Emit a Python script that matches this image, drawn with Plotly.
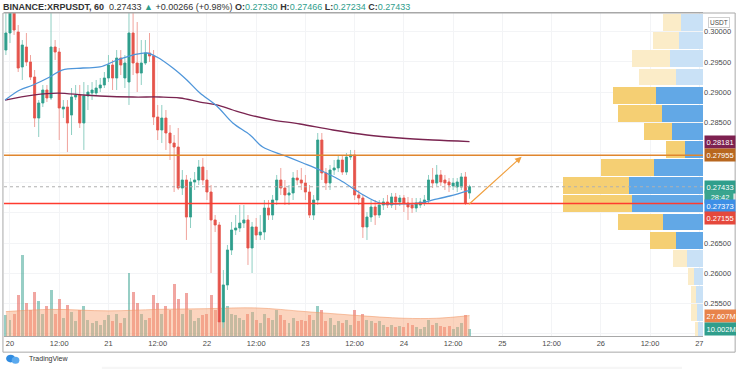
import plotly.graph_objects as go

# ---------------- data ----------------
hours = list(range(-1, 113))  # hourly candles, hours since Aug-20 00:00

opens = [.29697,.29979,.30310,.29995,.29416,.29747,.29499,.29250,.28571,.28820,
         .29035,.28903,.29747,.29664,.28720,.28753,.28621,.28919,.28952,.28489,
         .28936,.28985,.28985,.29068,.29118,.29234,.29449,.29234,.29565,.29234,
         .29167,.29979,.29482,.29316,.29482,.29648,.29598,.28588,.28373,.28571,
         .28323,.28157,.28091,.27412,.27545,.26932,.27512,.27545,.27760,.27545,
         .27346,.26883,.26800,.25194,.25807,.26386,.26717,.26750,.26833,.26883,
         .26419,.26767,.26634,.26684,.27081,.26965,.27214,.27545,.27412,.27297,
         .27330,.27578,.27545,.27495,.27346,.26965,.27214,.28207,.27661,.27495,
         .27710,.27744,.27876,.27677,.27926,.27959,.27297,.27247,.26767,.26932,
         .27098,.26965,.27131,.27181,.27131,.27264,.27181,.27247,.27164,.27131,
         .27081,.27131,.27164,.27214,.27545,.27495,.27628,.27545,.27512,.27446,
         .27429,.27429,.27595,.27330]
highs = [.30359,.30393,.30393,.30111,.29863,.29979,.29614,.29366,.28869,.29118,
         .29118,.30310,.29863,.29730,.28869,.28869,.29068,.29118,.29118,.29167,
         .29118,.29167,.29201,.29234,.29333,.29614,.29532,.29697,.29697,.29614,
         .30310,.30310,.30161,.29863,.29863,.29979,.29697,.28787,.28787,.28704,
         .28455,.28290,.28406,.27710,.27628,.27578,.27677,.27876,.27909,.27710,
         .27462,.26965,.26850,.26055,.26469,.26850,.26965,.27131,.27131,.26965,
         .26850,.26916,.26965,.27214,.27214,.27297,.27628,.27744,.27545,.27462,
         .27677,.27710,.27744,.27628,.27462,.27297,.28323,.28323,.27744,.27793,
         .27876,.27959,.27959,.27992,.28042,.28042,.27379,.27297,.27015,.27214,
         .27214,.27214,.27247,.27297,.27330,.27330,.27297,.27297,.27264,.27247,
         .27247,.27247,.27297,.27628,.27744,.27793,.27710,.27628,.27578,.27578,
         .27578,.27661,.27677,.27466]
lows = [.29614,.29813,.29946,.29333,.29201,.29432,.29201,.28422,.28257,.28753,
        .28836,.28869,.29532,.28207,.28571,.28008,.28290,.28869,.28406,.28042,
        .28704,.28869,.28952,.29002,.29068,.29167,.29035,.29035,.29283,.29068,
        .28787,.29283,.29002,.29118,.29449,.29499,.28455,.28207,.28157,.28042,
        .27876,.27346,.27379,.27297,.26552,.26750,.27379,.27462,.27462,.27214,
        .26005,.26684,.25062,.25095,.25724,.26303,.26634,.26684,.26750,.26138,
        .26005,.26552,.26552,.26552,.26883,.26883,.27131,.27297,.27131,.27131,
        .27214,.27462,.27379,.27214,.26916,.26883,.27131,.27545,.27379,.27379,
        .27628,.27677,.27628,.27628,.27876,.27214,.27131,.26585,.26552,.26850,
        .26800,.26916,.27048,.27081,.27081,.27048,.27114,.27015,.26883,.26999,
        .27015,.27081,.27114,.27164,.27412,.27446,.27446,.27379,.27346,.27379,
        .27346,.27379,.27131,.27234]
closes = [.29979,.30310,.30028,.29399,.29780,.29499,.29250,.28571,.28820,.29035,
          .28903,.29747,.29664,.28737,.28753,.28489,.28919,.28952,.28489,.28936,
          .29002,.29035,.29068,.29118,.29234,.29449,.29234,.29565,.29449,.29482,
          .29979,.29482,.29316,.29482,.29648,.29598,.28588,.28373,.28571,.28323,
          .28157,.28091,.27412,.27545,.26932,.27512,.27545,.27760,.27545,.27346,
          .26883,.26800,.25194,.25807,.26386,.26717,.26750,.26833,.26883,.26419,
          .26767,.26634,.26684,.27081,.26965,.27214,.27545,.27412,.27297,.27330,
          .27578,.27545,.27495,.27346,.26965,.27214,.28207,.27661,.27495,.27710,
          .27744,.27876,.27677,.27926,.27959,.27297,.27247,.26767,.26932,.27098,
          .26965,.27131,.27181,.27131,.27264,.27181,.27247,.27164,.27098,.27081,
          .27164,.27181,.27214,.27545,.27495,.27628,.27512,.27495,.27462,.27495,
          .27512,.27595,.27167,.27433]
volumes_m = [28,22,30,55,110,45,35,60,48,30,
             40,62,30,50,25,42,33,20,35,40,
             22,18,20,15,22,28,20,30,18,25,
             85,60,45,30,22,25,55,45,30,40,
             35,70,50,30,58,35,20,25,28,30,
             55,35,70,48,40,30,28,25,22,30,
             32,22,18,30,25,22,35,28,22,18,
             25,20,22,20,28,22,40,35,20,25,
             15,20,18,22,15,35,20,30,22,20,
             18,20,15,12,15,12,14,12,18,15,
             12,10,12,22,15,18,14,12,14,10,
             12,18,28,10.002]

vol_ma_hours = [-1, 10, 24, 36, 48, 60, 72, 84, 96, 104, 112]
vol_ma_m = [33, 36, 34, 36, 37, 38, 33, 28, 24, 24, 27.607]

ma_fast_hours = [-1.2, 2.4, 5.6, 9.7, 12.7, 17.8, 21.9, 26.1, 30, 33.4, 35.8, 39.7, 43.1, 46.3,
                 50.4, 54.3, 58.5, 61.6, 66.5, 71.4, 75.5, 80.4, 85.3, 90.2, 95, 99.9, 103.1, 107.2, 112]
ma_fast = [.28869, .29035, .29118, .29250, .29366, .29399, .29416, .29532, .29614, .29648, .29581,
           .29399, .29201, .28985, .28770, .28489, .28290, .28091, .27959, .27826, .27710, .27545,
           .27330, .27164, .27148, .27164, .27214, .27280, .27373]
ma_slow_hours = [-1.2, 5.6, 11.7, 17.8, 21.9, 30, 36.5, 41.4, 46.3, 50.4, 54.3, 58.5, 64.1,
                 70.7, 78.7, 87, 95, 103.1, 112]
ma_slow = [.28869, .28952, .28985, .28952, .28936, .28919, .28919, .28903, .28836, .28787,
           .28704, .28621, .28538, .28472, .28373, .28290, .28240, .28207, .28181]

profile_price = [.3015, .2985, .2955, .2925, .2895, .2865, .2835, .2805, .2775,
                 .2745, .2715, .2685, .2655, .2625, .2595, .2565, .2535, .2505]
profile_up_m = [11, 12, 16.5, 13.5, 23.5, 20.5, 15.5, 9, 24.5, 37, 35.5, 20, 13.5, 8, 4.5, 3.5, 3, 2.5]
profile_down_m = [9, 13, 19, 18.5, 21.5, 22, 14, 9.5, 26.5, 33, 34.5, 22.5, 13, 7, 3, 2.5, 3, 1.5]
in_value_area = [False]*4 + [True]*9 + [False]*5

resistance = 0.27955
support = 0.27155
last_price = 0.27433
arrow_from = (111.5, 0.2712)
arrow_to = (124.7, 0.2793)

x_tick_hours = [0, 12, 24, 36, 48, 60, 72, 84, 96, 108, 120, 132, 144, 156, 168]
x_tick_text = ['20', '12:00', '21', '12:00', '22', '12:00', '23', '12:00', '24', '12:00',
               '25', '12:00', '26', '12:00', '27']
y_ticks = [0.25, 0.255, 0.26, 0.265, 0.27, 0.275, 0.28, 0.285, 0.29, 0.295, 0.30]
hidden_ticks = {0.25, 0.27, 0.275, 0.28}

# ---------------- styling ----------------
UP = '#2f9e8c'
DOWN = '#e5544b'
UP_WICK = '#8fcfc3'
DOWN_WICK = '#f0a39c'
FONT = 'Liberation Sans'

fig = go.Figure()

# volume (base subplot)
vol_colors = ['rgba(47,158,140,0.5)' if c >= o else 'rgba(229,84,75,0.52)' for o, c in zip(opens, closes)]
fig.add_trace(go.Bar(x=hours, y=volumes_m, width=0.72, marker=dict(color=vol_colors, line_width=0),
                     xaxis='x', yaxis='y', showlegend=False))
fig.add_trace(go.Scatter(x=vol_ma_hours, y=vol_ma_m, mode='lines', line=dict(color='rgba(240,150,100,0.55)', width=1, shape='spline'),
                         fill='tozeroy', fillcolor='rgba(247,165,120,0.48)', xaxis='x', yaxis='y', showlegend=False))

# candles: wicks then bodies
fig.add_trace(go.Candlestick(x=hours, open=opens, high=highs, low=lows, close=closes,
                             increasing=dict(line=dict(color=UP_WICK, width=1), fillcolor=UP_WICK),
                             decreasing=dict(line=dict(color=DOWN_WICK, width=1), fillcolor=DOWN_WICK),
                             xaxis='x', yaxis='y2', showlegend=False, hoverinfo='skip'))
body_hi = [max(o, c) for o, c in zip(opens, closes)]
body_lo = [min(o, c) for o, c in zip(opens, closes)]
fig.add_trace(go.Candlestick(x=hours, open=opens, high=body_hi, low=body_lo, close=closes,
                             increasing=dict(line=dict(color=UP, width=0.6), fillcolor=UP),
                             decreasing=dict(line=dict(color=DOWN, width=0.6), fillcolor=DOWN),
                             xaxis='x', yaxis='y2', showlegend=False, hoverinfo='skip'))

# moving averages
fig.add_trace(go.Scatter(x=ma_slow_hours, y=ma_slow, mode='lines', line=dict(color='#7a2450', width=1.3, shape='spline'),
                         xaxis='x', yaxis='y2', showlegend=False))
fig.add_trace(go.Scatter(x=ma_fast_hours, y=ma_fast, mode='lines', line=dict(color='#4f96da', width=1.3, shape='spline'),
                         xaxis='x', yaxis='y2', showlegend=False))

# volume profile
up_cols = ['#62a8e6' if v else '#c9e1f6' for v in in_value_area]
dn_cols = ['#f5cf73' if v else '#fbecc8' for v in in_value_area]
fig.add_trace(go.Bar(y=profile_price, x=profile_up_m, orientation='h', width=0.0028,
                     marker=dict(color=up_cols, line_width=0), xaxis='x2', yaxis='y2', showlegend=False))
fig.add_trace(go.Bar(y=profile_price, x=profile_down_m, orientation='h', width=0.0028,
                     marker=dict(color=dn_cols, line_width=0), xaxis='x2', yaxis='y2', showlegend=False))

# ---------------- layout ----------------
tick_text = ['' if t in hidden_ticks else f'{t:.5f}' for t in y_ticks]
fig.update_layout(
    width=736, height=369,
    margin=dict(l=4, r=33, t=13, b=33),
    paper_bgcolor='white', plot_bgcolor='white',
    barmode='stack',
    font=dict(family=FONT, size=8, color='#4a4a4a'),
    xaxis=dict(range=[-1.46, 168.9], tickvals=x_tick_hours, ticktext=x_tick_text,
               showgrid=True, gridcolor='#f3f4f6', zeroline=False, ticks='', ticklen=0,
               showline=True, linecolor='#a8a8a8', linewidth=1, mirror=True, automargin=False,
               rangeslider=dict(visible=False), tickfont=dict(size=7.5, color='#4a4a4a')),
    xaxis2=dict(overlaying='x', range=[349.5, 0], visible=False, anchor='y2'),
    yaxis=dict(range=[0, 437], visible=False, fixedrange=True),
    yaxis2=dict(overlaying='y', side='right', range=[0.24962, 0.30310], tickvals=y_ticks, ticktext=tick_text,
                showgrid=True, gridcolor='#f3f4f6', zeroline=False, ticks='', ticklen=0, automargin=False,
                tickfont=dict(size=7.5, color='#4a4a4a'), showline=False),
)

shapes = [
    dict(type='line', xref='paper', x0=0, x1=1, yref='y2', y0=resistance, y1=resistance,
         line=dict(color='#e0862e', width=1.3), layer='above'),
    dict(type='line', xref='paper', x0=0, x1=1, yref='y2', y0=support, y1=support,
         line=dict(color='#ff3b2f', width=1.4), layer='above'),
    dict(type='line', xref='paper', x0=0, x1=1, yref='y2', y0=last_price, y1=last_price,
         line=dict(color='#b0b0b0', width=1, dash='dot'), layer='above'),
    # outer frame
    dict(type='rect', xref='paper', yref='paper', x0=-0.0015, x1=1.046, y0=-0.05, y1=1.0,
         line=dict(color='#a8a8a8', width=1), fillcolor='rgba(0,0,0,0)', layer='above'),
    # bottom blurred shadow
    dict(type='rect', xref='paper', yref='paper', x0=0.14, x1=0.97, y0=-0.11, y1=-0.095,
         line_width=0, fillcolor='rgba(0,0,0,0.035)'),
    # TradingView logo
    dict(type='circle', xref='paper', yref='paper', x0=0.003, x1=0.016, y0=-0.082, y1=-0.058,
         line_width=0, fillcolor='#2f8be0'),
    dict(type='circle', xref='paper', yref='paper', x0=0.011, x1=0.022, y0=-0.086, y1=-0.064,
         line_width=0, fillcolor='#5aa9ee'),
]
fig.update_layout(shapes=shapes)

def price_label(y, text, bg, yshift=0, yref='y2'):
    return dict(xref='paper', x=1, xanchor='left', xshift=1, yref=yref, y=y, yshift=yshift,
                text=text, showarrow=False, bgcolor=bg, borderpad=1.5,
                font=dict(size=7.5, color='white', family=FONT))

annotations = [
    price_label(0.28181, '0.28181', '#7d2150'),
    price_label(resistance, '0.27955', '#b8671f'),
    price_label(last_price, '0.27433', '#2f9e8c'),
    price_label(last_price, '&nbsp;&nbsp;28:42&nbsp;', '#3aa58e', yshift=-10.5),
    price_label(0.27373, '0.27373', '#3d8fe6', yshift=-15.5),
    price_label(support, '0.27155', '#e5483c', yshift=-14.5),
    price_label(27.607, '27.607M', '#e8834a', yref='y'),
    price_label(10.002, '10.002M', '#2f9e8c', yref='y'),
    dict(xref='paper', x=1, xanchor='left', xshift=5, yref='y2', y=0.30161, text='USDT', showarrow=False,
         bgcolor='white', bordercolor='#cfcfcf', borderwidth=1, borderpad=1,
         font=dict(size=6.5, color='#4a4a4a', family=FONT)),
    dict(xref='paper', x=0, xanchor='left', xshift=-3, yref='paper', y=1, yanchor='bottom', yshift=-1,
         showarrow=False, align='left',
         text=("<b>BINANCE:XRPUSDT, 60</b>  0.27433 <span style='color:#2f9e8c'>▲</span> +0.00266 (+0.98%) "
               "<b>O:</b><span style='color:#2f9e8c'>0.27330</span> <b>H:</b><span style='color:#2f9e8c'>0.27466</span> "
               "<b>L:</b><span style='color:#2f9e8c'>0.27234</span> <b>C:</b><span style='color:#2f9e8c'>0.27433</span>"),
         font=dict(size=9, color='#333333', family=FONT)),
    dict(xref='paper', x=0.033, xanchor='left', yref='paper', y=-0.07, yanchor='middle', showarrow=False,
         text='TradingView', font=dict(size=7, color='#333333', family=FONT)),
    dict(xref='x', yref='y2', x=arrow_to[0], y=arrow_to[1], axref='x', ayref='y2',
         ax=arrow_from[0], ay=arrow_from[1], showarrow=True, arrowhead=2, arrowsize=1.1,
         arrowwidth=1.2, arrowcolor='#f0a040', text=''),
]
fig.update_layout(annotations=annotations)

fig.write_html('out.html', config={'displayModeBar': False},
               post_script="document.body.style.margin='0px';document.body.style.padding='0px';")
